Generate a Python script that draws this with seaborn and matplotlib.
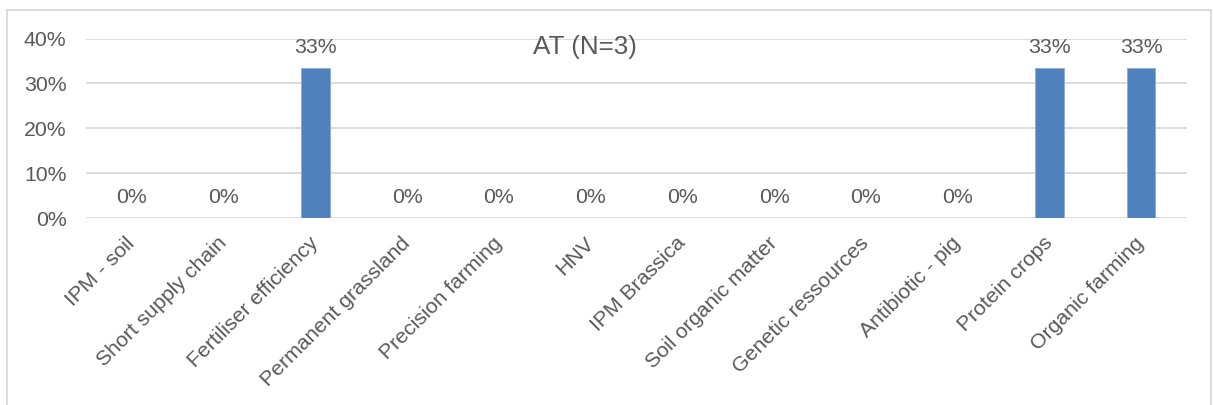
import matplotlib
matplotlib.use("Agg")
import matplotlib.pyplot as plt
import seaborn as sns
import pandas as pd
from matplotlib.patches import Rectangle
from matplotlib.ticker import PercentFormatter

measures = ["IPM - soil", "Short supply chain", "Fertiliser efficiency",
            "Permanent grassland", "Precision farming", "HNV", "IPM Brassica",
            "Soil organic matter", "Genetic ressources", "Antibiotic - pig",
            "Protein crops", "Organic farming"]
shares = [0, 0, 1/3, 0, 0, 0, 0, 0, 0, 0, 1/3, 1/3]
title = "AT (N=3)"

sns.set_theme(style="white")
plt.rcParams["font.family"] = ["Liberation Sans", "DejaVu Sans"]

W, H = 1213, 405
fig = plt.figure(figsize=(W / 100, H / 100), dpi=100)
fig.patch.set_facecolor("white")

# chart frame
fig.patches.append(Rectangle((7 / W, -0.01), (1211 - 7) / W, (H - 10) / H + 0.01,
                             transform=fig.transFigure, fill=False,
                             edgecolor="#d9d9d9", linewidth=1.3))

ax = fig.add_axes([86 / W, (H - 218) / H, (1187 - 86) / W, (218 - 38.5) / H])
df = pd.DataFrame({"measure": measures, "share": shares})
sns.barplot(data=df, x="measure", y="share", color="#4f81bd", width=0.31,
            saturation=1, ax=ax, edgecolor="#8eaadb", linewidth=0.6)

ax.set_ylim(0, 0.4)
ax.set_yticks([0, 0.1, 0.2, 0.3, 0.4])
ax.yaxis.set_major_formatter(PercentFormatter(1.0, decimals=0))
ax.grid(axis="y", color="#d9d9d9", linewidth=1.3)
ax.set_axisbelow(True)
for s in ax.spines.values():
    s.set_visible(False)
ax.set_xlabel("")
ax.set_ylabel("")
ax.tick_params(axis="y", length=0, pad=14, labelsize=15.3, labelcolor="#595959")
ax.tick_params(axis="x", length=0, pad=16, labelsize=15.3, labelcolor="#595959")
plt.setp(ax.get_xticklabels(), rotation=45, ha="right", va="center",
         rotation_mode="anchor")

for i, v in enumerate(shares):
    ax.annotate(f"{v:.0%}", (i, v), xytext=(0, 11), textcoords="offset points",
                ha="center", va="baseline", fontsize=15.3, color="#595959")

fig.text(585 / W, 1 - 47 / H, title, ha="center", va="center",
         fontsize=18.7, color="#595959")

fig.savefig("out.png", dpi=100, facecolor="white")
